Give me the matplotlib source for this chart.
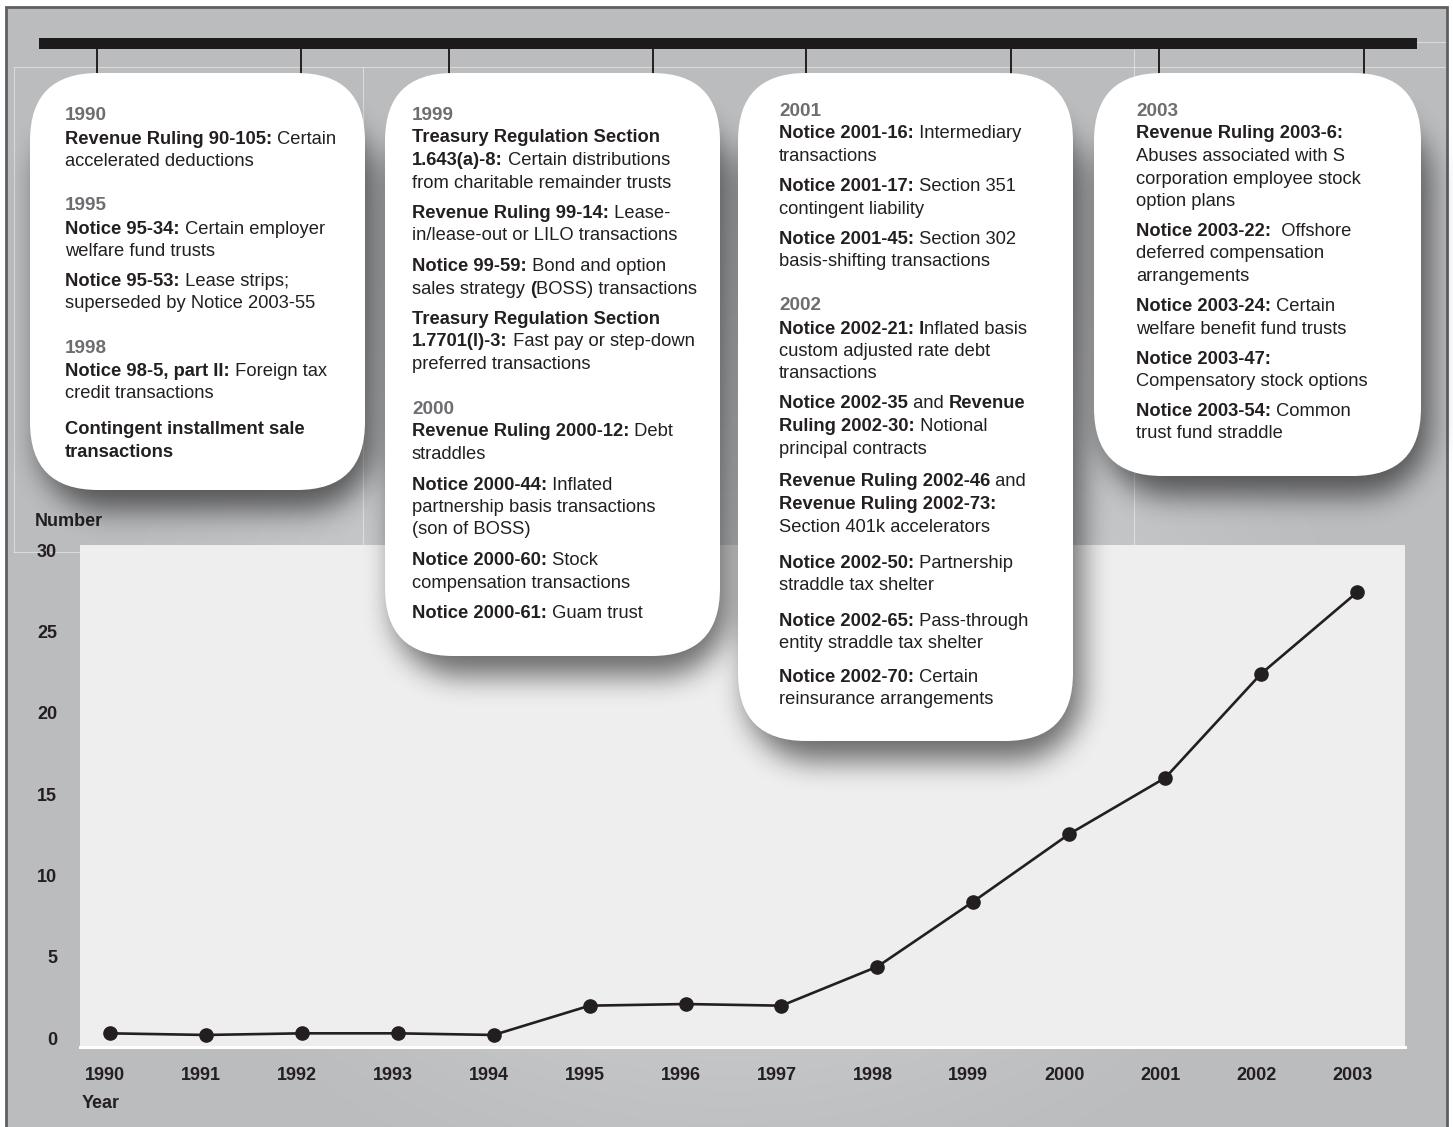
import matplotlib
matplotlib.use("Agg")
import matplotlib.pyplot as plt
import numpy as np
from matplotlib.patches import FancyBboxPatch, Rectangle
from matplotlib.transforms import ScaledTranslation

W, H = 1453, 1127
FONT = ["Liberation Sans", "DejaVu Sans"]
INK = "#231f20"
HEAD = "#6d6e71"

# ---- chart data ----
years = [1990, 1991, 1992, 1993, 1994, 1995, 1996, 1997, 1998, 1999, 2000, 2001, 2002, 2003]
counts = [0.3, 0.2, 0.3, 0.3, 0.2, 2.0, 2.1, 2.0, 4.4, 8.4, 12.55, 16.0, 22.4, 27.4]
y_ticks = [0, 5, 10, 15, 20, 25, 30]

# ---- timeline boxes: "##" = grey year heading, **...** = bold run ----
box1 = [
    ["##1990", "**Revenue Ruling 90-105:** Certain", "accelerated deductions"],
    ["##1995", "**Notice 95-34:** Certain employer", "welfare fund trusts"],
    ["**Notice 95-53:** Lease strips;", "superseded by Notice 2003-55"],
    ["##1998", "**Notice 98-5, part II:** Foreign tax", "credit transactions"],
    ["**Contingent installment sale**", "**transactions**"],
]
box2 = [
    ["##1999", "**Treasury Regulation Section**", "**1.643(a)-8:** Certain distributions",
     "from charitable remainder trusts"],
    ["**Revenue Ruling 99-14:** Lease-", "in/lease-out or LILO transactions"],
    ["**Notice 99-59:** Bond and option", "sales strategy **(**BOSS) transactions"],
    ["**Treasury Regulation Section**", "**1.7701(l)-3:** Fast pay or step-down",
     "preferred transactions"],
    ["##2000", "**Revenue Ruling 2000-12:** Debt", "straddles"],
    ["**Notice 2000-44:** Inflated", "partnership basis transactions", "(son of BOSS)"],
    ["**Notice 2000-60:** Stock", "compensation transactions"],
    ["**Notice 2000-61:** Guam trust"],
]
box3 = [
    ["##2001", "**Notice 2001-16:** Intermediary", "transactions"],
    ["**Notice 2001-17:** Section 351", "contingent liability"],
    ["**Notice 2001-45:** Section 302", "basis-shifting transactions"],
    ["##2002", "**Notice 2002-21: I**nflated basis", "custom adjusted rate debt", "transactions"],
    ["**Notice 2002-35** and **Revenue**", "**Ruling 2002-30:** Notional", "principal contracts"],
    ["**Revenue Ruling 2002-46** and", "**Revenue Ruling 2002-73:**", "Section 401k accelerators"],
    ["**Notice 2002-50:** Partnership", "straddle tax shelter"],
    ["**Notice 2002-65:** Pass-through", "entity straddle tax shelter"],
    ["**Notice 2002-70:** Certain", "reinsurance arrangements"],
]
box4 = [
    ["##2003", "**Revenue Ruling 2003-6:**", "Abuses associated with S",
     "corporation employee stock", "option plans"],
    ["**Notice 2003-22:**  Offshore", "deferred compensation", "arrangements"],
    ["**Notice 2003-24:** Certain", "welfare benefit fund trusts"],
    ["**Notice 2003-47:**", "Compensatory stock options"],
    ["**Notice 2003-54:** Common", "trust fund straddle"],
]

fig = plt.figure(figsize=(W / 100, H / 100), dpi=100)
bg = fig.add_axes([0, 0, 1, 1])
bg.axis("off")

# background gradient inside the frame
yy, xx = np.mgrid[0:H:3, 0:W:3]
r = np.hypot((xx - 730) / 640.0, (yy - 700) / 520.0)
v = 0.74 + 0.15 * np.clip(1 - r, 0, 1) ** 1.3
img = np.dstack([v - 0.004, v, v + 0.008]).clip(0, 1)
bg.imshow(img, extent=(6, 1447, 1127, 7), aspect="auto", interpolation="bilinear", zorder=0)
bg.set_xlim(0, W)
bg.set_ylim(H, 0)

# faint construction lines of the original layout
for xs, ys in [((14, 1447), (67, 67)), ((14, 14), (67, 552)), ((14, 80), (552, 552)),
               ((363, 363), (67, 552)), ((1134, 1134), (50, 545)), ((1417, 1447), (42, 42))]:
    bg.plot(xs, ys, color="white", lw=0.8, alpha=0.45, zorder=1)

# outer frame
bg.plot([6, 6, 1447, 1447], [1130, 7, 7, 1130], color="#5e5f62", lw=2, zorder=6,
        solid_joinstyle="miter")

# timeline bar and ticks
bg.add_patch(Rectangle((39, 38), 1378, 11, color="#1c1a1b", zorder=3, lw=0))
for tx in [97, 301, 449, 653, 806, 1011, 1159, 1364]:
    bg.plot([tx, tx], [48, 74], color=INK, lw=1.4, zorder=2)

bg.text(35, 521, "Number", fontsize=13, fontweight="bold", color=INK, family=FONT,
        va="center", zorder=5)
bg.text(82, 1103, "Year", fontsize=13, fontweight="bold", color=INK, family=FONT,
        va="center", zorder=5)

# ---- the chart ----
L, R, T, B = 80, 1405, 545, 1047
ax = fig.add_axes([L / W, 1 - B / H, (R - L) / W, (B - T) / H])
ax.set_facecolor("#eeeeee")
ax.plot(years, counts, color=INK, lw=1.9, marker="o", ms=9.5, mfc=INK, mec=INK, zorder=3)
ax.set_xlim(1989.687, 2003.5)
ax.set_ylim(-0.54, 30.31)
ax.set_xticks(years, labels=[str(y) for y in years], fontweight="bold", fontsize=13,
              color=INK, family=FONT)
ax.set_yticks(y_ticks, labels=[str(v) for v in y_ticks], fontweight="bold", fontsize=13,
              color=INK, family=FONT)
ax.tick_params(axis="x", length=0, pad=14.5)
ax.tick_params(axis="y", length=0, pad=16.5)
shift = ScaledTranslation(-5 / 100, 0, fig.dpi_scale_trans)
for lbl in ax.get_xticklabels():
    lbl.set_transform(lbl.get_transform() + shift)
for side in ["top", "left", "right"]:
    ax.spines[side].set_visible(False)
ax.spines["bottom"].set_color("white")
ax.spines["bottom"].set_linewidth(2.2)

# ---- overlay: boxes with soft shadows, above the chart ----
ov = fig.add_axes([0, 0, 1, 1])
ov.set_xlim(0, W)
ov.set_ylim(H, 0)
ov.axis("off")
ov.patch.set_alpha(0)

boxes = [(30, 73, 365, 490), (385, 73, 720, 656), (738, 73, 1073, 741), (1094, 73, 1421, 476)]
RAD = 68


def box_blur(a, k, axis):
    c = np.cumsum(np.pad(a, [(k + 1, k) if i == axis else (0, 0) for i in range(2)],
                         mode="edge"), axis=axis)
    if axis == 0:
        return (c[2 * k + 1:] - c[:-2 * k - 1]) / (2 * k + 1)
    return (c[:, 2 * k + 1:] - c[:, :-2 * k - 1]) / (2 * k + 1)


# soft drop shadow: rasterised rounded rects, blurred
sy, sx = np.mgrid[0:H, 0:W] + 0.5
mask = np.zeros((H, W))
for x0, y0, x1, y1 in boxes:
    ox0, oy0, ox1, oy1 = x0 + 8, y0 + 40, x1 + 9, y1 + 20
    dx = np.maximum(np.maximum(ox0 + RAD - sx, sx - (ox1 - RAD)), 0)
    dy = np.maximum(np.maximum(oy0 + RAD - sy, sy - (oy1 - RAD)), 0)
    mask = np.maximum(mask, (np.hypot(dx, dy) <= RAD).astype(float))
for _ in range(3):
    mask = box_blur(mask, 13, 0)
    mask = box_blur(mask, 13, 1)
shadow = np.zeros((H, W, 4))
shadow[..., 3] = 0.55 * mask
ov.imshow(shadow, extent=(0, W, H, 0), aspect="auto", interpolation="bilinear", zorder=2)
ov.set_xlim(0, W)
ov.set_ylim(H, 0)

for x0, y0, x1, y1 in boxes:
    ov.add_patch(FancyBboxPatch((x0, y0), x1 - x0, y1 - y0,
                                boxstyle=f"round,pad=0,rounding_size={RAD}",
                                fc="white", ec="none", zorder=4))

renderer = fig.canvas.get_renderer()
_wc = {}


def text_w(s, size, weight):
    key = (s, size, weight)
    if key not in _wc:
        def w(txt):
            t = ov.text(0, 0, txt, fontsize=size, fontweight=weight, family=FONT)
            e = t.get_window_extent(renderer).width
            t.remove()
            return e
        _wc[key] = w("|" + s + "|") - w("||")
    return _wc[key]


def draw_rich(x, y, markup, size=13.25):
    if markup.startswith("##"):
        ov.text(x, y, markup[2:], fontsize=13.6, fontweight="bold", color=HEAD,
                family=FONT, va="baseline", zorder=5)
        return
    cx = x
    for i, part in enumerate(markup.split("**")):
        if not part:
            continue
        wt = "bold" if i % 2 else "normal"
        ov.text(cx, y, part, fontsize=size, fontweight=wt, color=INK, family=FONT,
                va="baseline", zorder=5)
        cx += text_w(part, size, wt)


def draw_box(x, y_first, blocks, step=22.5, block_gap=30.0, head_gap=44.5, gaps=None):
    gaps = gaps or {}
    y = None
    for bi, block in enumerate(blocks):
        for li, line in enumerate(block):
            if y is None:
                y = y_first
            elif li == 0:
                y += gaps.get(bi, head_gap if line.startswith("##") else block_gap)
            elif li == 1 and block[0].startswith("##"):
                y += 23
            else:
                y += step
            draw_rich(x, y + 5.5, line)


draw_box(65, 115, box1, gaps={4: 36})
draw_box(412, 114, box2, block_gap=30.5)
draw_box(779, 110, box3, gaps={5: 33, 6: 36, 7: 36, 8: 33})
draw_box(1136, 110, box4)

fig.savefig("out.png", dpi=100)
